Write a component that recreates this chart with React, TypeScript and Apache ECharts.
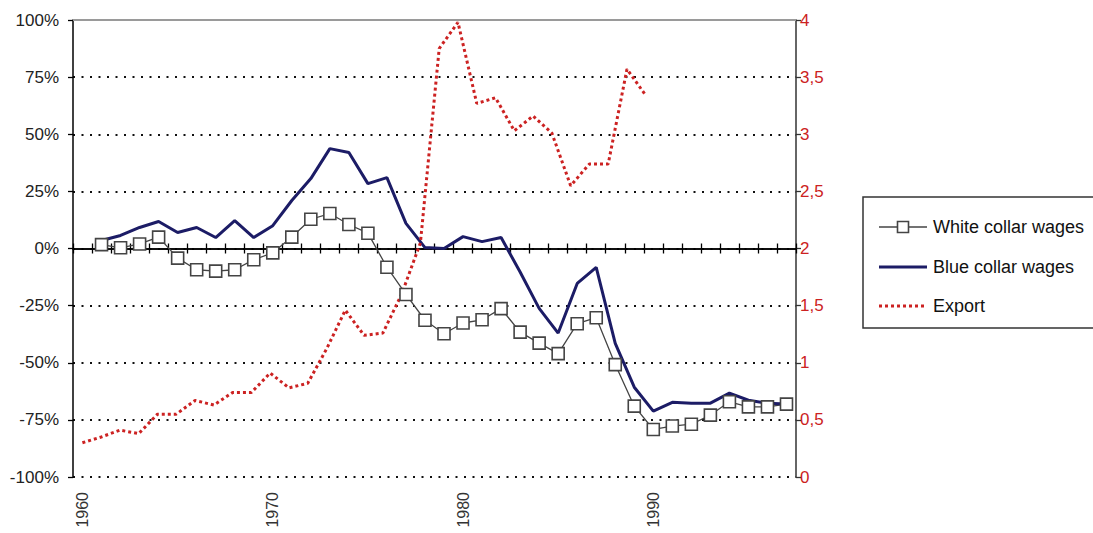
import React, { useEffect, useRef } from 'react';
import * as echarts from 'echarts';

const years = [
  '1960', '1961', '1962', '1963', '1964', '1965', '1966', '1967', '1968', '1969',
  '1970', '1971', '1972', '1973', '1974', '1975', '1976', '1977', '1978', '1979',
  '1980', '1981', '1982', '1983', '1984', '1985', '1986', '1987', '1988', '1989',
  '1990', '1991', '1992', '1993', '1994', '1995', '1996', '1997',
];

// percent, 1960..1997 (no 1960 value)
const whiteCollar = [
  null, 1.7, 0.3, 2, 5, -4.2, -9.3, -9.9, -9.3, -4.9,
  -1.9, 5, 12.8, 15.3, 10.5, 6.7, -8.2, -20.1, -31.4, -37.3,
  -32.6, -31.2, -26.3, -36.6, -41.4, -46, -32.9, -30.3, -50.8, -69,
  -79.2, -77.7, -76.9, -72.9, -67.1, -69.3, -69.3, -68.1,
];

const blueCollar = [
  null, 3.5, 5.7, 9.2, 11.8, 7, 9.2, 4.8, 12.2, 4.8,
  10, 21, 30.6, 43.7, 42, 28.4, 31, 11, 0.4, 0,
  5.2, 3, 4.8, -10.3, -26.2, -37, -15.3, -8.3, -41.5, -60.7,
  -71.2, -67.3, -67.7, -67.7, -63.3, -66.4, -67.7, -68.1,
];

const exportYears = [
  1960, 1961, 1962, 1963, 1964, 1965, 1966, 1967, 1968, 1969,
  1970, 1971, 1972, 1973, 1974, 1975, 1976, 1977, 1978, 1979,
  1980, 1981, 1982, 1983, 1984, 1985, 1986, 1987, 1988, 1989, 1990,
];
const exportValues = [
  0.30, 0.35, 0.41, 0.38, 0.55, 0.55, 0.67, 0.63, 0.74, 0.74,
  0.91, 0.78, 0.82, 1.12, 1.46, 1.24, 1.26, 1.6, 2.05, 3.75,
  3.98, 3.27, 3.32, 3.03, 3.16, 3.01, 2.55, 2.74, 2.74, 3.57, 3.34,
];

const leftTickLabels = ['-100%', '-75%', '-50%', '-25%', '0%', '25%', '50%', '75%', '100%'];
const rightTickLabels = ['0', '0,5', '1', '1,5', '2', '2,5', '3', '3,5', '4'];

const seriesNames = ['White collar wages', 'Blue collar wages', 'Export'];

const FONT = "'Liberation Sans', Arial, sans-serif";
const WHITE_COLOR = '#444';
const BLUE_COLOR = '#1c1c66';
const EXPORT_COLOR = '#cc2222';

export default function App() {
  const ref = useRef<HTMLDivElement>(null);

  useEffect(() => {
    if (!ref.current) return;
    const chart = echarts.init(ref.current, null, { renderer: 'svg' });
    const zeroAxisBase = {
      type: 'category' as const,
      data: years,
      boundaryGap: true,
      axisLabel: { show: false },
      splitLine: { show: false },
    };

    // legend drawn as graphic (box, samples, labels)
    const legX = 863;
    const legY = 197;
    const rowY = [227, 267, 306];
    const sx1 = 879;
    const sx2 = 927;
    const textX = 933;
    const legendGraphic: any[] = [
      {
        type: 'rect',
        shape: { x: legX, y: legY, width: 250, height: 131 },
        style: { fill: '#fff', stroke: '#333', lineWidth: 1.5 },
        z: 10,
      },
      {
        type: 'line',
        shape: { x1: sx1, y1: rowY[0], x2: sx2, y2: rowY[0] },
        style: { stroke: WHITE_COLOR, lineWidth: 1.3 },
        z: 11,
      },
      {
        type: 'rect',
        shape: { x: (sx1 + sx2) / 2 - 5.5, y: rowY[0] - 5.5, width: 11, height: 11 },
        style: { fill: '#fff', stroke: WHITE_COLOR, lineWidth: 1.6 },
        z: 12,
      },
      {
        type: 'line',
        shape: { x1: sx1, y1: rowY[1], x2: sx2, y2: rowY[1] },
        style: { stroke: BLUE_COLOR, lineWidth: 3 },
        z: 11,
      },
      {
        type: 'line',
        shape: { x1: sx1, y1: rowY[2], x2: sx2, y2: rowY[2] },
        style: { stroke: EXPORT_COLOR, lineWidth: 3, lineDash: [3, 3] },
        z: 11,
      },
    ];
    seriesNames.forEach((name, i) => {
      legendGraphic.push({
        type: 'text',
        x: textX,
        y: rowY[i],
        style: {
          text: name,
          fontSize: 18,
          fontFamily: FONT,
          fill: '#111',
          verticalAlign: 'middle',
          align: 'left',
        },
        z: 12,
      });
    });

    chart.setOption({
      animation: false,
      backgroundColor: '#ffffff',
      grid: { left: 73, right: 297, top: 20, bottom: 56, containLabel: false },
      graphic: legendGraphic,
      xAxis: [
        {
          type: 'category',
          data: years,
          position: 'bottom',
          boundaryGap: true,
          axisLine: { show: false, onZero: false },
          axisTick: { show: false },
          axisLabel: {
            interval: 9,
            rotate: 90,
            fontSize: 16,
            color: '#333',
            fontFamily: FONT,
            margin: 15,
          },
          splitLine: { show: false },
        },
        {
          ...zeroAxisBase,
          position: 'bottom',
          axisLine: { show: true, onZero: true, onZeroAxisIndex: 0, lineStyle: { color: '#000', width: 1.5 } },
          axisTick: { show: true, inside: true, length: 5, interval: 0, lineStyle: { color: '#000', width: 1.3 } },
        },
        {
          ...zeroAxisBase,
          position: 'top',
          axisLine: { show: true, onZero: true, onZeroAxisIndex: 0, lineStyle: { color: '#000', width: 1.5 } },
          axisTick: { show: true, inside: true, length: 5, interval: 0, lineStyle: { color: '#000', width: 1.3 } },
        },
        {
          type: 'value',
          position: 'top',
          min: 1959.5,
          max: 1998,
          axisLine: { show: true, onZero: false, lineStyle: { color: '#9a9a9a', width: 2 } },
          axisTick: { show: false },
          axisLabel: { show: false },
          splitLine: { show: false },
        },
      ],
      yAxis: [
        {
          type: 'value',
          position: 'left',
          min: -100,
          max: 100,
          interval: 25,
          axisLine: { show: true, onZero: false, lineStyle: { color: '#000', width: 1.5 } },
          axisTick: { show: true, length: 5, lineStyle: { color: '#000', width: 1.3 } },
          axisLabel: {
            fontSize: 17,
            color: '#222',
            fontFamily: FONT,
            margin: 14,
            formatter: (v: number) => leftTickLabels[Math.round((v + 100) / 25)],
          },
          splitLine: {
            show: true,
            showMaxLine: false,
            lineStyle: { type: [2, 6.5], color: '#111', width: 2 },
          },
        },
        {
          type: 'value',
          position: 'right',
          min: 0,
          max: 4,
          interval: 0.5,
          axisLine: { show: true, onZero: false, lineStyle: { color: '#333', width: 1.5 } },
          axisTick: { show: true, length: 5, lineStyle: { color: '#333', width: 1.3 } },
          axisLabel: {
            fontSize: 17,
            color: EXPORT_COLOR,
            fontFamily: FONT,
            margin: 4,
            formatter: (v: number) => rightTickLabels[Math.round(v / 0.5)],
          },
          splitLine: { show: false },
        },
      ],
      series: [
        {
          name: seriesNames[0],
          type: 'line',
          xAxisIndex: 0,
          yAxisIndex: 0,
          data: whiteCollar,
          symbol: 'rect',
          symbolSize: 12,
          showSymbol: true,
          lineStyle: { color: WHITE_COLOR, width: 1.3 },
          itemStyle: { color: '#ffffff', borderColor: WHITE_COLOR, borderWidth: 1.6 },
        },
        {
          name: seriesNames[1],
          type: 'line',
          xAxisIndex: 0,
          yAxisIndex: 0,
          data: blueCollar,
          symbol: 'none',
          lineStyle: { color: BLUE_COLOR, width: 3 },
          itemStyle: { color: BLUE_COLOR },
        },
        {
          name: seriesNames[2],
          type: 'line',
          xAxisIndex: 3,
          yAxisIndex: 1,
          data: exportYears.map((y, i) => [y, exportValues[i]]),
          symbol: 'none',
          lineStyle: { color: EXPORT_COLOR, width: 3, type: [3, 3] },
          itemStyle: { color: EXPORT_COLOR },
        },
      ],
    });
    return () => chart.dispose();
  }, []);

  return (
    <div
      ref={ref}
      style={{ position: 'absolute', left: 0, top: 0, width: 1093, height: 533, background: '#fff' }}
    />
  );
}
